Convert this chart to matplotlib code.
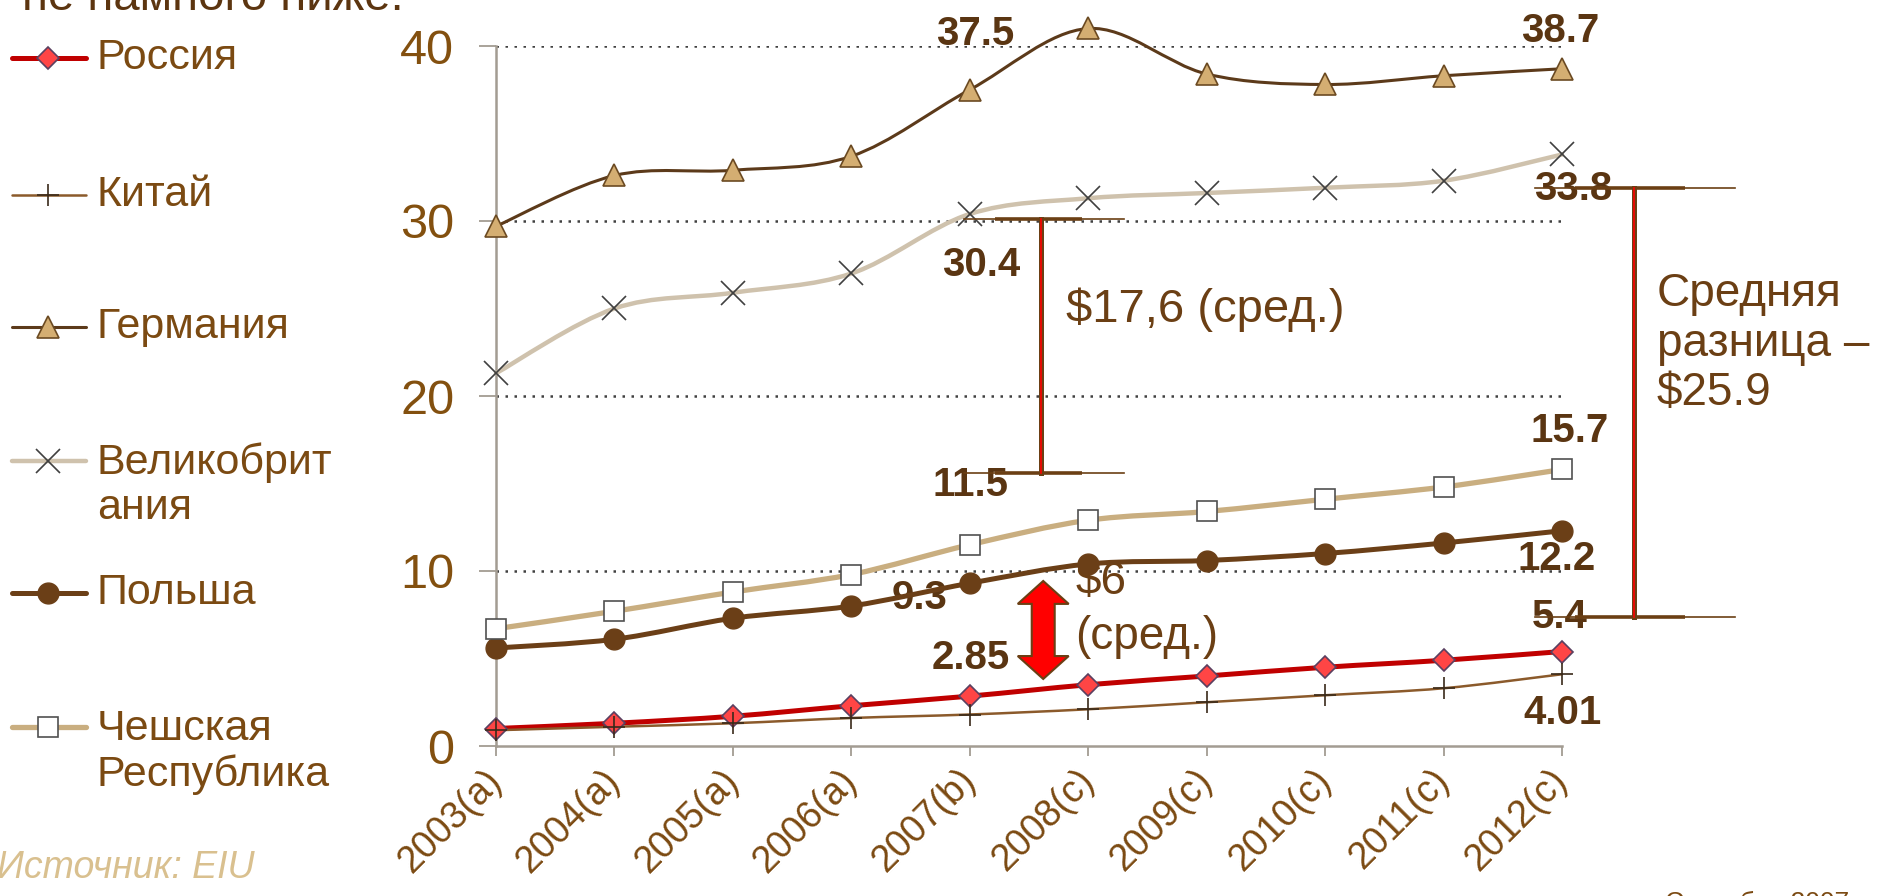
import matplotlib
matplotlib.use("Agg")
from matplotlib import pyplot as plt
from matplotlib.patches import Polygon, PathPatch
from matplotlib.path import Path

plt.rcParams['font.family'] = ['Liberation Sans', 'DejaVu Sans']

# data
years = ["2003(a)", "2004(a)", "2005(a)", "2006(a)", "2007(b)",
         "2008(c)", "2009(c)", "2010(c)", "2011(c)", "2012(c)"]
russia = [1.0, 1.3, 1.7, 2.3, 2.85, 3.5, 4.0, 4.5, 4.9, 5.4]
china = [0.9, 1.1, 1.3, 1.6, 1.8, 2.1, 2.5, 2.9, 3.3, 4.1]
germany = [29.7, 32.6, 32.9, 33.7, 37.5, 41.0, 38.4, 37.8, 38.3, 38.7]
uk = [21.3, 25.0, 25.9, 27.0, 30.4, 31.3, 31.6, 31.9, 32.3, 33.8]
poland = [5.6, 6.1, 7.3, 8.0, 9.3, 10.4, 10.6, 11.0, 11.6, 12.3]
czech = [6.7, 7.7, 8.8, 9.8, 11.5, 12.9, 13.4, 14.1, 14.8, 15.8]

names = ["Россия", "Китай", "Германия", "Великобрит\nания", "Польша", "Чешская\nРеспублика"]
yticks = [0, 10, 20, 30, 40]

BROWN = "#6b3f14"
LABEL = "#5a3512"
TICK = "#83500f"
AXIS = "#a39c92"

styles = [
    dict(color="#c00000", lw=3.6, marker="D", ms=11, mfc="#ff4545", mec="#5a4060", mew=1.2),
    dict(color="#8b5a2b", lw=1.8, marker="+", ms=16, mec="#3a2a1a", mew=1.2),
    dict(color="#5c3a1a", lw=2.2, marker="^", ms=16, mfc="#d4ae72", mec="#6b4a22", mew=1.2),
    dict(color="#cfc2ad", lw=3.2, marker="x", ms=17, mec="#404040", mew=1.2),
    dict(color="#6b3f17", lw=3.6, marker="o", ms=15, mfc="#6b3f17", mec="#6b3f17"),
    dict(color="#c9ae80", lw=3.8, marker="s", ms=14, mfc="white", mec="#505050", mew=1.2),
]
series = [russia, china, germany, uk, poland, czech]


def smooth_path(xs, ys):
    # smoothed line like the office chart: catmull-rom segments as cubic beziers
    pts = list(zip(xs, ys))
    verts, codes = [pts[0]], [Path.MOVETO]
    n = len(pts)
    for i in range(n - 1):
        p0 = pts[max(i - 1, 0)]
        p1, p2 = pts[i], pts[i + 1]
        p3 = pts[min(i + 2, n - 1)]
        c1 = (p1[0] + (p2[0] - p0[0]) / 6, p1[1] + (p2[1] - p0[1]) / 6)
        c2 = (p2[0] - (p3[0] - p1[0]) / 6, p2[1] - (p3[1] - p1[1]) / 6)
        verts += [c1, c2, p2]
        codes += [Path.CURVE4] * 3
    return Path(verts, codes)


fig = plt.figure(figsize=(18.8, 8.96), dpi=100)
ax = fig.add_axes([496 / 1880, 1 - 746 / 896, (1562 - 496) / 1880, (746 - 46) / 896])
x = list(range(len(years)))

for vals, st in zip(series, styles):
    ax.add_patch(PathPatch(smooth_path(x, vals), fill=False, edgecolor=st["color"],
                           lw=st["lw"], clip_on=False, zorder=4, capstyle="round"))
    ax.plot(x, vals, ls="none", clip_on=False, zorder=4.5,
            **{k: v for k, v in st.items() if k not in ("color", "lw")})

ax.set_xlim(0, 9)
ax.set_ylim(0, 40)
ax.set_yticks(yticks)
for yv in yticks[1:]:
    ax.axhline(yv, color="#404040", lw=1.8, ls=(0, (1, 2.6)), zorder=1)
for s in ["top", "right"]:
    ax.spines[s].set_visible(False)
for s in ["left", "bottom"]:
    ax.spines[s].set_color(AXIS)
    ax.spines[s].set_linewidth(1.8)
ax.tick_params(axis="y", length=12, width=1.3, color=AXIS, pad=18, labelsize=35, labelcolor=TICK)
ax.tick_params(axis="x", length=7, width=1.3, color=AXIS, pad=14, labelsize=27, labelcolor="#7b4a12")
ax.set_xticks(x)
ax.set_xticklabels(years, rotation=45, ha="right", va="center", rotation_mode="anchor")

# value labels
callouts = [
    (germany, 4, "37.5", 5, 56), (germany, 9, "38.7", -2, 38),
    (uk, 9, "33.8", 11, -35), (uk, 4, "30.4", 11, -51),
    (czech, 4, "11.5", 1, 60), (czech, 9, "15.7", 8, 39),
    (poland, 9, "12.2", -5, -28), (poland, 4, "9.3", -50, -15),
    (russia, 4, "2.85", 1, 38), (russia, 9, "5.4", -2, 35),
    (china, 9, "4.01", 0, -39),
]
for vals, i, txt, dx, dy in callouts:
    ax.annotate(txt, (i, vals[i]), xytext=(dx, dy), textcoords="offset pixels",
                ha="center", va="center", fontsize=29, fontweight="bold",
                color=LABEL, zorder=2, annotation_clip=False)


def bracket(xc, y0, y1, xl, xr):
    for yy in (y0, y1):
        ax.plot([xl, xr], [yy, yy], color=BROWN, lw=1.2, clip_on=False, zorder=5)
        ax.plot([xl + (xc - xl) * 0.4, xc + (xr - xc) * 0.5], [yy, yy], color=BROWN, lw=2.6,
                clip_on=False, zorder=5, solid_capstyle="butt")
    ax.plot([xc, xc], [y0, y1], color=BROWN, lw=3.6, clip_on=False, zorder=5)
    ax.plot([xc, xc], [y0, y1], color="#ff0000", lw=1.2, clip_on=False, zorder=6)


bracket(4.60, 15.6, 30.1, 3.95, 5.30)
bracket(9.61, 7.37, 31.9, 8.77, 10.46)

ax.text(4.81, 24.9, "$17,6 (сред.)", fontsize=34, color=BROWN, va="center", ha="left")
ax.text(4.89, 7.8, "$6\n(сред.)", fontsize=33, color=BROWN, va="center", ha="left",
        linespacing=1.3, zorder=3)
ax.text(9.80, 23.0, "Средняя\nразница –\n$25.9", fontsize=33, color=BROWN,
        va="center", ha="left", linespacing=1.17)

# red double arrow
cx, ya, yb, hw, sw, hl = 4.62, 3.83, 9.43, 0.215, 0.097, 1.31
pts = [(cx, yb), (cx + hw, yb - hl), (cx + sw, yb - hl), (cx + sw, ya + hl),
       (cx + hw, ya + hl), (cx, ya), (cx - hw, ya + hl), (cx - sw, ya + hl),
       (cx - sw, yb - hl), (cx - hw, yb - hl)]
ax.add_patch(Polygon(pts, closed=True, facecolor="#ff0000", edgecolor=BROWN, lw=1.5, zorder=6))

# legend and loose texts in pixel space
ov = fig.add_axes([0, 0, 1, 1], zorder=10)
ov.set_xlim(0, 1880)
ov.set_ylim(896, 0)
ov.axis("off")
ov.patch.set_alpha(0)

rows = [58, 195, 327, 461, 593, 727]
text_y = [58, 195, 327, 485, 593, 752]
for name, st, ry, ty in zip(names, styles, rows, text_y):
    ov.plot([12, 86], [ry, ry], color=st["color"], lw=st["lw"], solid_capstyle="round")
    ov.plot([48], [ry], ls="none", **{k: v for k, v in st.items() if k not in ("color", "lw")})
    ov.text(97, ty, name, fontsize=31, color="#7b4a12", va="center", ha="left", linespacing=1.15)

ov.text(-3, 868, "Источник: EIU", fontsize=27, style="italic", color="#d9c08f", va="center")
ov.text(22, 10, "не намного ниже.", fontsize=34, color="#5c3510", va="baseline")
ov.text(1665, 891, "Сентябрь 2007", fontsize=19, color="#7b4a12", va="top")

fig.savefig("out.png", dpi=100)
